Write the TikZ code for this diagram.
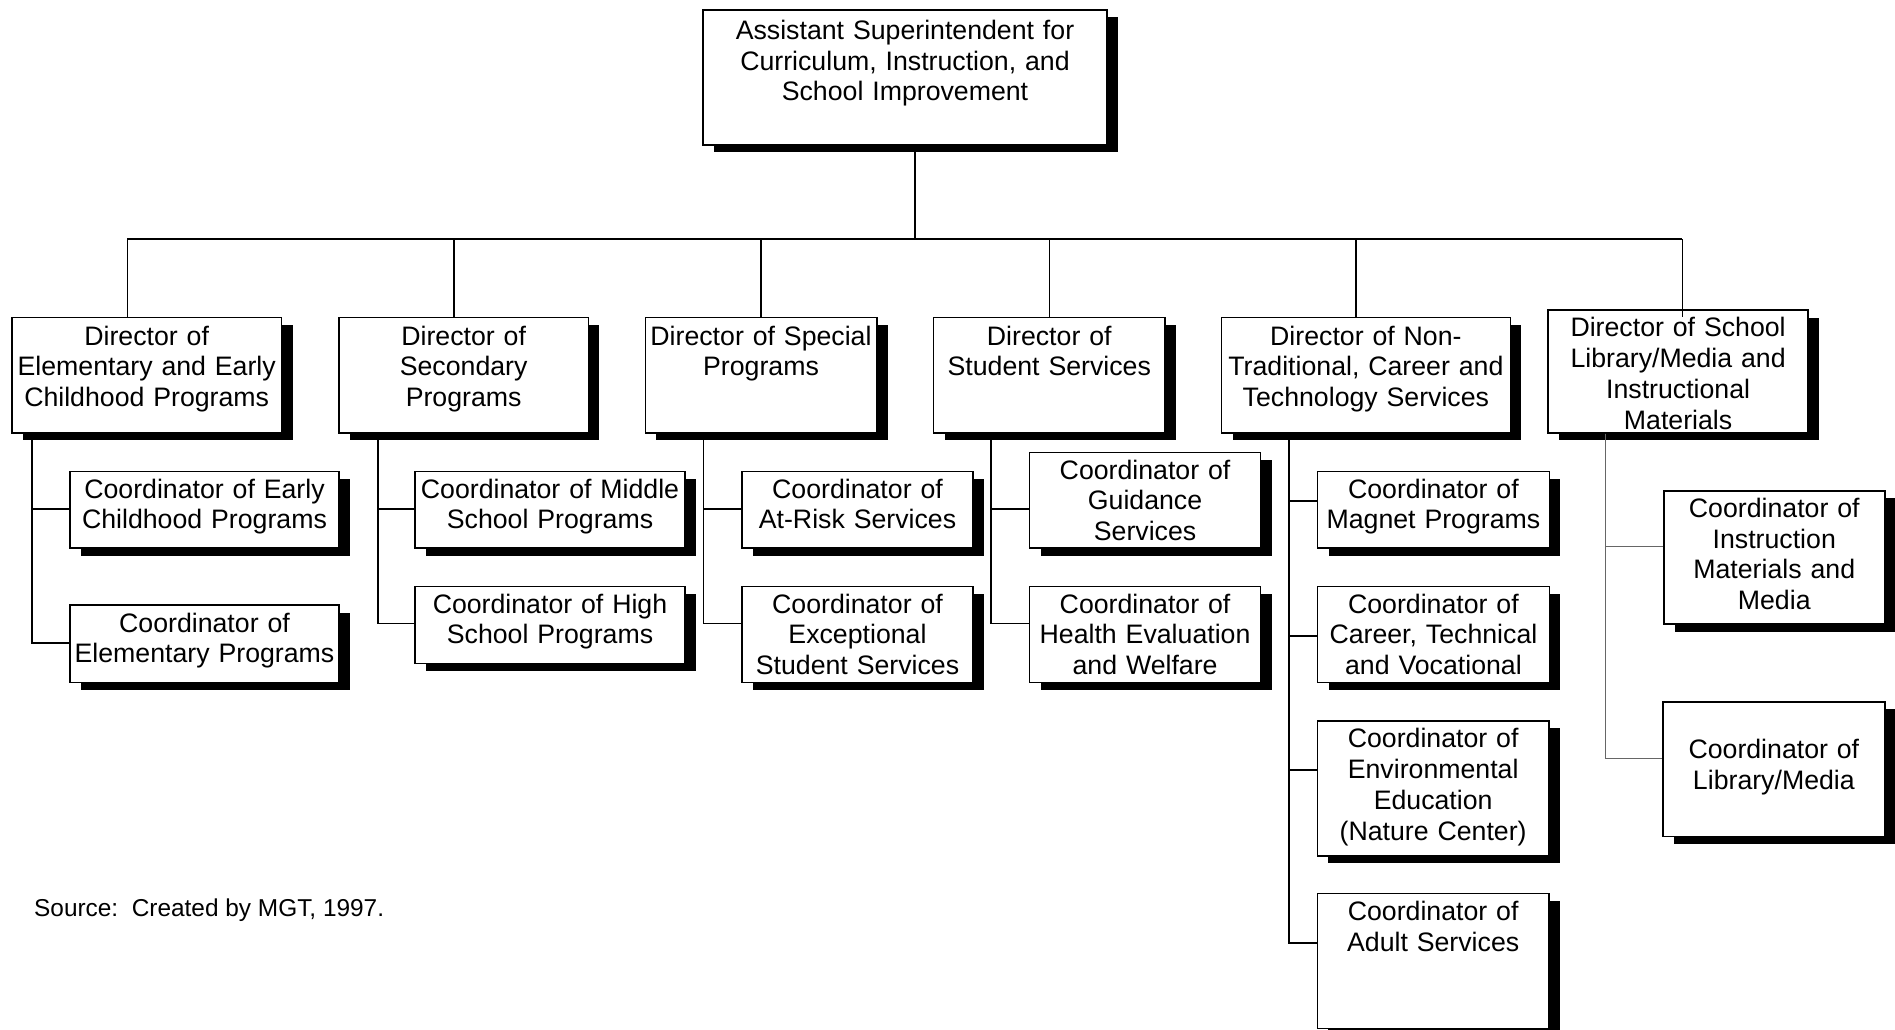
\documentclass[tikz,border=0pt]{standalone}
\usepackage{fontspec}
\setmainfont{Liberation Sans}
\usetikzlibrary{shadows}

% Box with given left, right, top, bottom edges; #6 = distance from the
% top edge to the first baseline, so the text sits at the top of the box.
\newcommand{\orgbox}[7]{%
  \pgfmathsetmacro\obW{#3-#2}%
  \pgfmathsetmacro\obX{(#2+#3)/2}%
  \pgfmathsetmacro\obD{#5-#4-#6}%
  \node[box, text width=\obW pt, text height=#6pt, text depth=\obD pt] (#1) at (\obX,#4) {#7};%
}
% Elbow connector: down a trunk below a director, across into a coordinator.
\newcommand{\feed}[5][link]{%
  \draw[#1] (#2.south -| #3) |- ([yshift=-#5pt]#4.north west);%
}

\tikzset{
  box/.style={draw=black, line width=1.6pt, fill=white, inner sep=0pt,
    align=center, anchor=north,
    font=\fontsize{26.7pt}{30.8pt}\selectfont,
    drop shadow={shadow xshift=11pt, shadow yshift=-7.5pt, fill=black, opacity=1}},
  link/.style={line width=1.6pt, draw=black},
  thinlink/.style={line width=1.1pt, draw=black!60},
}

\begin{document}
\begin{tikzpicture}[x=1pt, y=-1pt]
\useasboundingbox (0,0) rectangle (1895,1029);
\fill[white] (0,0) rectangle (1895,1029);

% Top of the chart
\orgbox{top}{703}{1107}{9}{144}{29.5}{Assistant Superintendent for\\Curriculum, Instruction, and\\School Improvement}

% Directors
\orgbox{d1}{11.9}{281.5}{316.7}{432}{27.5}{Director of\\Elementary and Early\\Childhood Programs}
\orgbox{d2}{338.9}{588.4}{316.7}{432}{27.5}{Director of\\Secondary\\Programs}
\orgbox{d3}{645.3}{876.7}{316.7}{432}{27.5}{Director of Special\\Programs}
\orgbox{d4}{933.5}{1165}{316.7}{432}{27.5}{Director of\\Student Services}
\orgbox{d5}{1221.5}{1510.3}{316.7}{432}{27.5}{Director of Non-\\Traditional, Career and\\Technology Services}
\orgbox{d6}{1548}{1808.2}{309.3}{432}{26.5}{Director of School\\Library/Media and\\Instructional\\Materials}

% Coordinators
\orgbox{c11}{70}{339}{470.7}{547.3}{26.5}{Coordinator of Early\\Childhood Programs}
\orgbox{c12}{70}{339}{604.3}{681.7}{27}{Coordinator of\\Elementary Programs}
\orgbox{c21}{415}{685}{470.7}{547.3}{26.5}{Coordinator of Middle\\School Programs}
\orgbox{c22}{415}{685}{585.7}{662.7}{26.5}{Coordinator of High\\School Programs}
\orgbox{c31}{742}{973}{470.7}{547.3}{26.5}{Coordinator of\\At-Risk Services}
\orgbox{c32}{742}{973}{585.7}{681.7}{26.5}{Coordinator of\\Exceptional\\Student Services}
\orgbox{c41}{1029.5}{1260.6}{451.7}{547.3}{26.5}{Coordinator of\\Guidance\\Services}
\orgbox{c42}{1029.5}{1260.6}{585.7}{681.7}{26.5}{Coordinator of\\Health Evaluation\\and Welfare}
\orgbox{c51}{1317.5}{1549.3}{470.7}{547.3}{26.5}{Coordinator of\\Magnet Programs}
\orgbox{c52}{1317.5}{1549.3}{585.7}{681.7}{26.5}{Coordinator of\\Career, Technical\\and Vocational}
\orgbox{c53}{1317.3}{1549}{720}{855}{27}{Coordinator of\\Environmental\\Education\\(Nature Center)}
\orgbox{c54}{1317.3}{1549}{892.7}{1027.7}{27}{Coordinator of\\Adult Services}
\orgbox{c61}{1663.7}{1884.8}{490}{623.3}{26.5}{Coordinator of\\Instruction\\Materials and\\Media}
\orgbox{c62}{1663}{1884.7}{701}{835.7}{57}{Coordinator of\\Library/Media}

% Bus from the top box to the directors
\coordinate (bus) at (915,239);
\coordinate (b1) at (127.3,239);
\coordinate (b2) at (453.9,239);
\coordinate (b3) at (761,239);
\coordinate (b4) at (1049.3,239);
\coordinate (b5) at (1356,239);
\coordinate (b6) at (1682.3,239);
\draw[link] (top.south -| bus) -- (bus);
\draw[link] (b1) -- (b6);
\foreach \k in {1,...,5} {\draw[link] (b\k) -- (b\k |- d\k.north);}
\draw[link] (b6) -- (b6 |- d1.north);

% Trunks below each director
\coordinate (t1) at (32,0);
\coordinate (t2) at (378,0);
\coordinate (t3) at (703.3,0);
\coordinate (t4) at (991.2,0);
\coordinate (t5) at (1288.7,0);
\coordinate (t6) at (1605.6,0);

\feed{d1}{t1}{c11}{38.3}
\feed{d1}{t1}{c12}{38.4}
\feed{d2}{t2}{c21}{38.3}
\feed{d2}{t2}{c22}{37.6}
\feed{d3}{t3}{c31}{38.3}
\feed{d3}{t3}{c32}{37.6}
\feed{d4}{t4}{c41}{57.3}
\feed{d4}{t4}{c42}{37.6}
\feed{d5}{t5}{c51}{30.3}
\feed{d5}{t5}{c52}{50}
\feed{d5}{t5}{c53}{50}
\feed{d5}{t5}{c54}{50}
\feed[thinlink]{d6}{t6}{c61}{56.7}
\feed[thinlink]{d6}{t6}{c62}{57.3}

% Footnote
\node[anchor=base west, inner sep=0pt, font=\fontsize{24.4pt}{28pt}\selectfont] (src) at (34,916) {Source:\ \ Created by MGT, 1997.};
\end{tikzpicture}
\end{document}
